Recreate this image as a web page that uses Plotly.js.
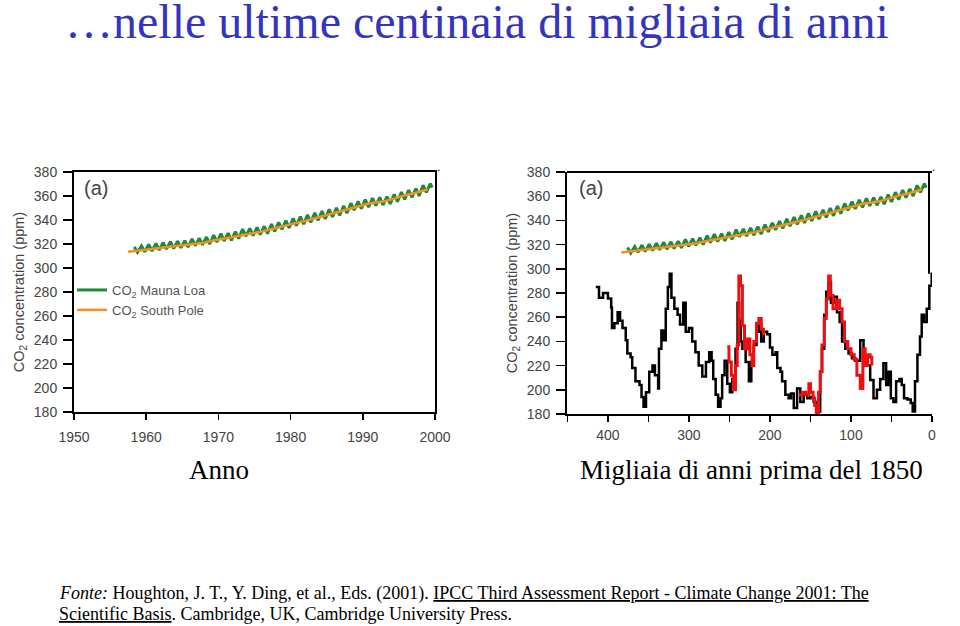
<!DOCTYPE html>
<html>
<head>
<meta charset="utf-8">
<script src="https://cdn.plot.ly/plotly-3.0.1.min.js"></script>
<style>html,body{margin:0;padding:0;background:#fff;}#chart{width:960px;height:626px;}</style>
</head>
<body>
<div id="chart"></div>
<script>
// Mauna Loa (seasonal peaks and troughs), decimal years
const mlYear = [1958.35,1958.8,1959.35,1959.8,1960.35,1960.8,1961.35,1961.8,1962.35,1962.8,1963.35,1963.8,1964.35,1964.8,1965.35,1965.8,1966.35,1966.8,1967.35,1967.8,1968.35,1968.8,1969.35,1969.8,1970.35,1970.8,1971.35,1971.8,1972.35,1972.8,1973.35,1973.8,1974.35,1974.8,1975.35,1975.8,1976.35,1976.8,1977.35,1977.8,1978.35,1978.8,1979.35,1979.8,1980.35,1980.8,1981.35,1981.8,1982.35,1982.8,1983.35,1983.8,1984.35,1984.8,1985.35,1985.8,1986.35,1986.8,1987.35,1987.8,1988.35,1988.8,1989.35,1989.8,1990.35,1990.8,1991.35,1991.8,1992.35,1992.8,1993.35,1993.8,1994.35,1994.8,1995.35,1995.8,1996.35,1996.8,1997.35,1997.8,1998.35,1998.8,1999.35,1999.6];
const mlCO2 = [317.6,313.0,318.3,313.6,319.6,314.2,320.4,315.0,321.2,315.7,322.0,316.2,322.3,316.8,322.8,317.4,324.2,318.6,324.9,319.4,325.8,320.0,327.4,321.6,328.6,322.5,329.1,323.1,330.4,324.4,332.4,326.5,333.0,327.0,333.9,327.8,334.8,328.6,336.5,330.5,338.0,332.1,339.4,333.3,341.3,335.3,342.8,336.6,344.2,338.0,345.9,339.6,347.4,341.0,348.8,342.5,350.2,343.8,351.9,345.6,354.0,348.2,355.5,349.5,356.9,350.7,358.2,352.0,358.9,352.5,359.5,353.4,361.4,355.2,363.3,357.1,365.0,358.9,366.1,360.1,369.0,363.1,370.3,367.0];
// South Pole (annual values)
const spYear = [1957.5,1959,1960,1961,1962,1963,1964,1965,1966,1967,1968,1969,1970,1971,1972,1973,1974,1975,1976,1977,1978,1979,1980,1981,1982,1983,1984,1985,1986,1987,1988,1989,1990,1991,1992,1993,1994,1995,1996,1997,1998,1999];
const spCO2 = [313.5,314.6,315.3,316.0,316.8,317.3,317.9,318.5,319.6,320.4,321.1,322.5,323.6,324.5,325.6,327.2,328.4,329.3,330.3,331.9,333.5,334.8,336.6,338.0,339.3,340.8,342.5,344.0,345.4,347.0,349.2,351.0,352.6,353.9,354.8,355.6,357.2,359.1,360.9,362.1,364.0,365.5];
// Vostok ice core (thousand years before 1850)
const vostokAge = [415,411,406,400,396,395,392,388,385,382,378,376,372,370,366,361,358.5,356,353,349,345,342,338,337,334,331,328.6,326,323.7,321.6,318,314,311,307,304,300,296,292,288,283.5,279,275,272,270,267,264,261,259,256,252.7,249.5,246.5,242.5,240,238,236,234,230,226,223,220,216.6,213.7,210.8,207.6,203.5,200,197,193,191,187,185,181,177,174,170.6,166.5,162.5,158.4,154,150,146,142,138,135.8,133,130.5,127.6,124.7,121.4,117.3,114,111,107,103,98.8,94.8,90.7,88.6,84.5,80.4,76.3,72.2,68,64,60,56.6,53.7,50.8,47.6,44.3,40.2,37.3,34.5,30.3,26.2,23.8,21,18,14.8,12.7,9.8,6.5,3.3,0.4];
const vostokCO2 = [285,276,280,275.5,268,251,255,264,257,251,241,230,227,218,207,204,194,186,198,215,220,212,201,234,249,241,267,285,296,276,267,262,254,272,248,251,240,231,220,211,223,231,224,209,196,186,193,212,224,205,198,209,234,272,257,240,234,223,207,223,237,248,255,240,248,246,235,229,231,218,215,207,196,193,197,185,201,190,196,193,194,190,182,215,234,262,281,289,272,277,264,256,240,234,230,226,224,224,241,226,220,208,193,200,209,222,204,215,193,190,207,209,204,193,192,189,182,207,229,244,262,256,267,286,297];
// Second ice core record (red)
const redAge = [252.7,250.6,247.7,245,242.5,240.4,238.4,236.3,234,231.4,228,224.8,222,219.9,216.6,213.7,210.8,208,null,164.5,160,156,152,150,146.8,144.8,142.8,140,138,135.8,133,130.5,127.6,125.5,122.2,118,114,111,108,104,100,96,92.7,88.6,85.3,82.5,79.6,76.3,74.3];
const redCO2 = [235.5,223,212,200,220,237,294,286,253,234,242,229,220,240,255,259,250,245,null,196,198,196,205,198,193,187,180,198,215,237,259,275,294,278,267,274,267,256,240,234,229,225,212,201,234,220,229,227,220];

const yTicks = [180,200,220,240,260,280,300,320,340,360,380];
const xTicksYear = [1950,1960,1970,1980,1990,2000];
const xTicksAge = [450,400,350,300,250,200,150,100,50,0];
const xTicksAgeText = ['','400','','300','','200','','100','','0'];

const GREEN = '#1e8a3a', ORANGE = '#f39020';
const sans = 'Liberation Sans, Arial, sans-serif';
const serif = 'Liberation Serif, Times New Roman, serif';

const traces = [
  {x: mlYear, y: mlCO2, xaxis:'x', yaxis:'y', mode:'lines', name:'CO<sub>2</sub> Mauna Loa', line:{color:GREEN, width:3}},
  {x: spYear, y: spCO2, xaxis:'x', yaxis:'y', mode:'lines', name:'CO<sub>2</sub> South Pole', line:{color:ORANGE, width:2.5}},
  {x: vostokAge, y: vostokCO2, xaxis:'x2', yaxis:'y2', mode:'lines', showlegend:false, line:{color:'#000', width:2.5, shape:'hv'}},
  {x: redAge, y: redCO2, xaxis:'x2', yaxis:'y2', mode:'lines', showlegend:false, connectgaps:false, line:{color:'#ee1010', width:3, shape:'hv'}},
  {x: mlYear, y: mlCO2, xaxis:'x3', yaxis:'y2', mode:'lines', showlegend:false, line:{color:GREEN, width:3}},
  {x: spYear, y: spCO2, xaxis:'x3', yaxis:'y2', mode:'lines', showlegend:false, line:{color:ORANGE, width:2.5}}
];

const axisCommon = {showgrid:false, zeroline:false, showline:true, linecolor:'#000', linewidth:2, ticks:'outside', tickcolor:'#000', tickwidth:1.5, tickfont:{family:sans, size:14, color:'#444'}};

const layout = {
  width:960, height:626, margin:{l:0,r:0,t:0,b:0}, paper_bgcolor:'#fff', plot_bgcolor:'#fff',
  showlegend:true,
  legend:{x:0.075, xanchor:'left', y:0.5607, yanchor:'top', bgcolor:'rgba(0,0,0,0)', font:{family:sans, size:13, color:'#555'}, itemwidth:30, tracegroupgap:0},
  xaxis: Object.assign({}, axisCommon, {domain:[74/960, 435/960], range:[1950,2000], tickvals:xTicksYear, ticklen:6, mirror:true, anchor:'y', ticklabelstandoff:5}),
  yaxis: Object.assign({}, axisCommon, {domain:[1-412/626, 1-172/626], range:[180,380], tickvals:yTicks, ticklen:9, mirror:true, anchor:'x', ticklabelstandoff:3,
    title:{text:'CO<sub>2</sub> concentration (ppm)', standoff:6, font:{family:sans, size:14.5, color:'#444'}}}),
  xaxis2: Object.assign({}, axisCommon, {domain:[567/960, 932/960], range:[450.5,0], tickvals:xTicksAge, ticktext:xTicksAgeText, ticklen:6, mirror:false, anchor:'y2', ticklabelstandoff:1}),
  yaxis2: Object.assign({}, axisCommon, {domain:[1-414/626, 1-172/626], range:[180,380], tickvals:yTicks, ticklen:9, mirror:false, anchor:'x2', ticklabelstandoff:3,
    title:{text:'CO<sub>2</sub> concentration (ppm)', standoff:6, font:{family:sans, size:14.5, color:'#444'}}}),
  xaxis3: {domain:[567/960, 932/960], range:[1950,2000.4], overlaying:'x2', anchor:'y2', visible:false},
  shapes:[
    {type:'line', xref:'x2 domain', yref:'y2 domain', x0:0, x1:1, y0:1, y1:1, line:{color:'#000', width:2}},
    {type:'line', xref:'x2', yref:'y2', x0:3.7, x1:3.7, y0:296, y1:380, line:{color:'#000', width:2}}
  ],
  annotations:[
    {text:'…nelle ultime centinaia di migliaia di anni', xref:'paper', yref:'paper', x:63/960, y:1-21/626, xanchor:'left', yanchor:'middle', showarrow:false, font:{family:serif, size:48, color:'#3434bf'}},
    {text:'(a)', xref:'paper', yref:'paper', x:82/960, y:1-188/626, xanchor:'left', yanchor:'middle', showarrow:false, font:{family:sans, size:20, color:'#444'}},
    {text:'(a)', xref:'paper', yref:'paper', x:577/960, y:1-188/626, xanchor:'left', yanchor:'middle', showarrow:false, font:{family:sans, size:20, color:'#444'}},
    {text:'.', xref:'paper', yref:'paper', x:438/960, y:1-158/626, showarrow:false, font:{family:sans, size:12, color:'#000'}},
    {text:'.', xref:'paper', yref:'paper', x:937/960, y:1-158/626, showarrow:false, font:{family:sans, size:12, color:'#000'}},
    {text:'Anno', xref:'paper', yref:'paper', x:219/960, y:1-470/626, xanchor:'center', yanchor:'middle', showarrow:false, font:{family:serif, size:27, color:'#000'}},
    {text:'Migliaia di anni prima del 1850', xref:'paper', yref:'paper', x:751/960, y:1-470/626, xanchor:'center', yanchor:'middle', showarrow:false, font:{family:serif, size:27, color:'#000'}},
    {text:'<i>Fonte:</i> Houghton, J. T., Y. Ding, et al., Eds. (2001). <u>IPCC Third Assessment Report - Climate Change 2001: The</u>', xref:'paper', yref:'paper', x:57/960, y:1-593/626, xanchor:'left', yanchor:'middle', showarrow:false, font:{family:serif, size:18, color:'#000'}},
    {text:'<u>Scientific Basis</u>. Cambridge, UK, Cambridge University Press.', xref:'paper', yref:'paper', x:57/960, y:1-614/626, xanchor:'left', yanchor:'middle', showarrow:false, font:{family:serif, size:18, color:'#000'}}
  ]
};

Plotly.newPlot('chart', traces, layout, {displayModeBar:false, staticPlot:true});
</script>
</body>
</html>
